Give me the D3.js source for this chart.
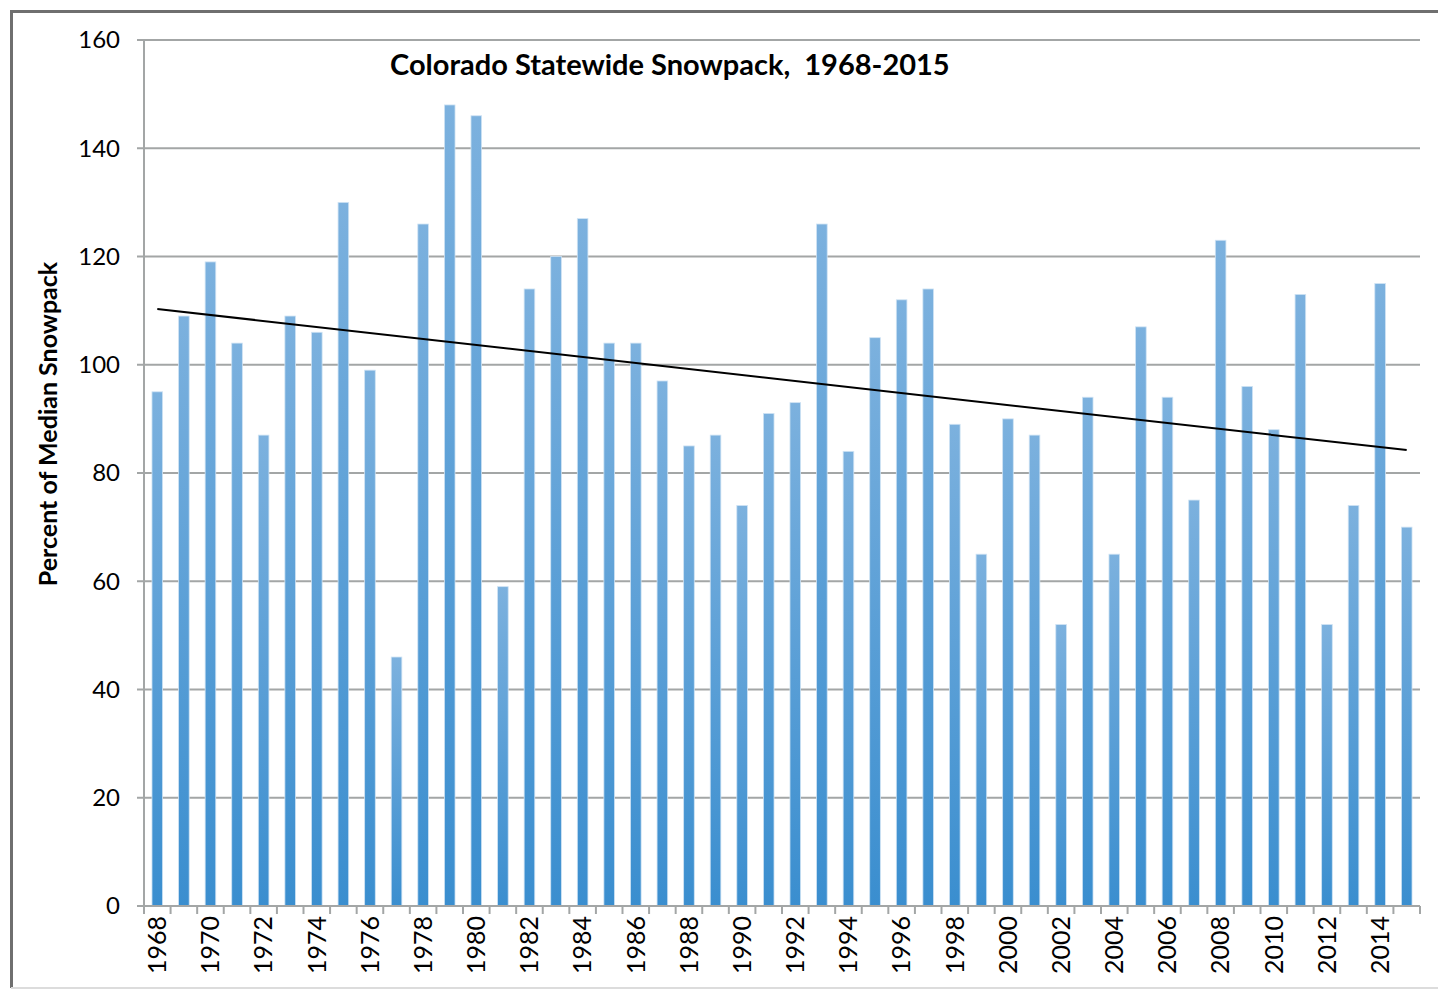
<!DOCTYPE html>
<html>
  <head>
    <title>Colorado Statewide Snowpack</title>
    <script src="https://d3js.org/d3.v7.min.js"></script>
    <style>
      body { margin: 0; background-color: white; }
      text { font-family: Lato, "Open Sans", sans-serif; fill: #000; }
    </style>
  </head>
  <body>
    <svg id="canvas" width="1438" height="990"></svg>
    <script>
      const years = d3.range(1968, 2016)
      const snowpack = [95, 109, 119, 104, 87, 109, 106, 130, 99, 46,
                        126, 148, 146, 59, 114, 120, 127, 104, 104, 97,
                        85, 87, 74, 91, 93, 126, 84, 105, 112, 114,
                        89, 65, 90, 87, 52, 94, 65, 107, 94, 75,
                        123, 96, 88, 113, 52, 74, 115, 70]
      const yTicks = [0, 20, 40, 60, 80, 100, 120, 140, 160]
      const chartTitle = 'Colorado Statewide Snowpack,  1968-2015'
      const yTitle = 'Percent of Median Snowpack'

      let margin = { top: 40, right: 18, bottom: 84, left: 144 }
      let svg = d3.select('#canvas')
      let width = +svg.attr('width') - margin.left - margin.right
      let height = +svg.attr('height') - margin.top - margin.bottom

      // outer chart border
      svg.append('line').attr('x1', 11).attr('x2', 1438).attr('y1', 11.5).attr('y2', 11.5)
        .attr('stroke', '#6f6f6f').attr('stroke-width', 3)
      svg.append('line').attr('x1', 11.5).attr('x2', 11.5).attr('y1', 10).attr('y2', 988)
        .attr('stroke', '#6f6f6f').attr('stroke-width', 3)
      svg.append('line').attr('x1', 11).attr('x2', 1438).attr('y1', 988).attr('y2', 988)
        .attr('stroke', '#dcdcdc').attr('stroke-width', 2)

      let g = svg.append('g').attr('transform', `translate(${margin.left}, ${margin.top})`)

      let x = d3.scaleBand().domain(years).range([0, width]).paddingInner(0.6).paddingOuter(0.3)
      let y = d3.scaleLinear().domain([0, 160]).range([height, 0])

      let defs = svg.append('defs')
      let grad = defs.append('linearGradient').attr('id', 'barGrad')
        .attr('x1', 0).attr('x2', 0).attr('y1', 0).attr('y2', 1)
      grad.append('stop').attr('offset', '0%').attr('stop-color', '#7cb1de')
      grad.append('stop').attr('offset', '100%').attr('stop-color', '#3a8ecf')

      // gridlines + y ticks
      g.selectAll('.grid').data(yTicks.filter(d => d > 0))
        .enter().append('line')
          .attr('x1', -7).attr('x2', width)
          .attr('y1', d => y(d)).attr('y2', d => y(d))
          .attr('stroke', '#a3a6a6').attr('stroke-width', 2)

      g.selectAll('.ylab').data(yTicks)
        .enter().append('text')
          .attr('x', -24).attr('y', d => y(d))
          .attr('dy', '0.35em')
          .attr('text-anchor', 'end')
          .attr('font-size', 24)
          .text(d => d)

      // bars
      g.selectAll('.bar').data(years)
        .enter().append('rect')
          .attr('x', d => x(d))
          .attr('y', (d, i) => y(snowpack[i]))
          .attr('width', x.bandwidth())
          .attr('height', (d, i) => height - y(snowpack[i]))
          .attr('fill', 'url(#barGrad)')
          .attr('stroke', '#cfe3f4').attr('stroke-width', 0.8)

      // axes lines
      g.append('line').attr('x1', 0).attr('x2', 0).attr('y1', 0).attr('y2', height)
        .attr('stroke', '#a3a6a6').attr('stroke-width', 2)
      g.append('line').attr('x1', -7).attr('x2', width).attr('y1', height).attr('y2', height)
        .attr('stroke', '#a3a6a6').attr('stroke-width', 2)

      // x tick marks at category boundaries
      let step = x.step()
      g.selectAll('.xtick').data(d3.range(years.length + 1))
        .enter().append('line')
          .attr('x1', d => d * step).attr('x2', d => d * step)
          .attr('y1', height).attr('y2', height + 8)
          .attr('stroke', '#a3a6a6').attr('stroke-width', 2)

      g.selectAll('.xlab').data(years.filter(d => d % 2 === 0))
        .enter().append('text')
          .attr('transform', d => `translate(${x(d) + x.bandwidth() / 2}, ${height + 10}) rotate(-90)`)
          .attr('dy', '0.35em')
          .attr('text-anchor', 'end')
          .attr('font-size', 25)
          .text(d => d)

      // linear trendline
      let xs = years.map((d, i) => i)
      let mx = d3.mean(xs), my = d3.mean(snowpack)
      let slope = d3.sum(xs, (d, i) => (d - mx) * (snowpack[i] - my)) / d3.sum(xs, d => (d - mx) * (d - mx))
      let icpt = my - slope * mx
      let first = years[0], last = years[years.length - 1]
      g.append('line')
        .attr('x1', x(first) + x.bandwidth() / 2)
        .attr('x2', x(last) + x.bandwidth() / 2)
        .attr('y1', y(icpt))
        .attr('y2', y(icpt + slope * (years.length - 1)))
        .attr('stroke', '#000').attr('stroke-width', 2)

      // titles
      svg.append('text')
        .attr('x', 390).attr('y', 75)
        .attr('font-size', 29).attr('font-weight', 'bold')
        .style('white-space', 'pre')
        .text(chartTitle)

      svg.append('text')
        .attr('transform', 'translate(48, 424) rotate(-90)')
        .attr('dy', '0.35em')
        .attr('text-anchor', 'middle')
        .attr('font-size', 25).attr('font-weight', 'bold')
        .text(yTitle)
    </script>
  </body>
</html>
